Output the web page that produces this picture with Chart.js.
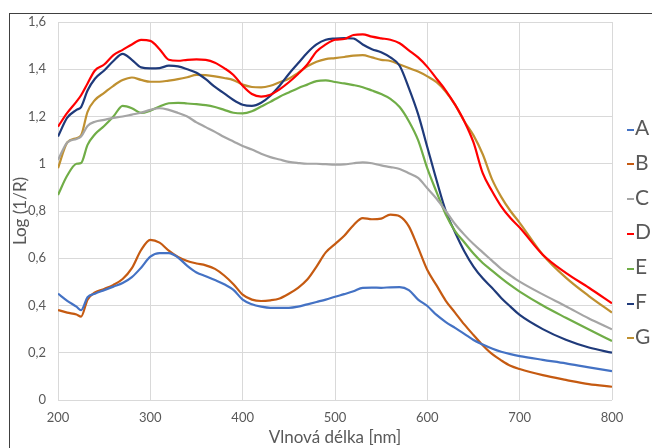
<!DOCTYPE html>
<html lang="cs">
<head>
<meta charset="utf-8">
<title>Log (1/R)</title>
<script src="https://cdn.jsdelivr.net/npm/chart.js@4.4.1/dist/chart.umd.min.js"></script>
<style>
    html, body { margin: 0; padding: 0; background: #ffffff; }
    #wrap { position: relative; width: 652px; height: 448px; overflow: hidden; }
    #frame {
        position: absolute; left: 9px; top: 13px; width: 700px; height: 500px;
        border: 1.5px solid #404040; box-sizing: border-box;
    }
    #chart { position: absolute; left: 0; top: 0; }
    #legend {
        position: absolute; left: 627px; top: 110px;
        font-family: Lato, "Open Sans", sans-serif; font-size: 21px; color: #595959;
    }
    #legend .item { height: 34.8px; line-height: 34.8px; white-space: nowrap; }
    #legend .dash { display: inline-block; width: 7px; height: 2px; margin-right: 1px; vertical-align: middle; }
</style>
</head>
<body>
<div id="wrap">
    <div id="frame"></div>
    <canvas id="chart" width="652" height="448"></canvas>
    <div id="legend"></div>
</div>
<script>
// vlnove delky (nm), spolecne pro vsechny krivky
const WL = [200, 210, 220, 225, 232, 240, 250, 260, 270, 280, 290, 300, 310, 320, 330, 340, 350, 360, 370, 380,
    390, 400, 410, 420, 430, 440, 450, 460, 470, 480, 490, 500, 510, 520, 530, 540, 550, 560, 570, 580,
    590, 600, 610, 620, 630, 640, 650, 660, 670, 680, 690, 700, 725, 750, 775, 800];

const A = [0.45, 0.42, 0.395, 0.38, 0.435, 0.45, 0.465, 0.48, 0.495, 0.52, 0.56, 0.607, 0.622, 0.622, 0.603, 0.568, 0.54, 0.524, 0.508, 0.49,
    0.466, 0.425, 0.405, 0.395, 0.39, 0.39, 0.39, 0.395, 0.405, 0.415, 0.425, 0.437, 0.448, 0.46, 0.475, 0.476, 0.475, 0.477, 0.478, 0.465,
    0.425, 0.398, 0.36, 0.33, 0.305, 0.28, 0.254, 0.235, 0.218, 0.204, 0.194, 0.186, 0.17, 0.155, 0.138, 0.122];

const B = [0.381, 0.37, 0.362, 0.353, 0.425, 0.455, 0.47, 0.487, 0.512, 0.558, 0.635, 0.678, 0.666, 0.632, 0.605, 0.588, 0.578, 0.57, 0.555, 0.527,
    0.49, 0.446, 0.425, 0.419, 0.422, 0.43, 0.45, 0.475, 0.51, 0.565, 0.625, 0.66, 0.695, 0.74, 0.77, 0.765, 0.768, 0.785, 0.778, 0.735,
    0.645, 0.55, 0.485, 0.42, 0.37, 0.32, 0.275, 0.232, 0.195, 0.168, 0.145, 0.131, 0.105, 0.085, 0.067, 0.056];

const C = [1.016, 1.09, 1.105, 1.115, 1.16, 1.178, 1.186, 1.194, 1.2, 1.208, 1.216, 1.228, 1.235, 1.228, 1.215, 1.2, 1.175, 1.155, 1.135, 1.113,
    1.094, 1.075, 1.06, 1.042, 1.028, 1.018, 1.008, 1.003, 1.0, 1.0, 0.998, 0.996, 0.997, 1.002, 1.006, 1.002, 0.993, 0.986, 0.978, 0.96,
    0.94, 0.896, 0.852, 0.8, 0.745, 0.7, 0.66, 0.625, 0.59, 0.555, 0.527, 0.501, 0.447, 0.397, 0.345, 0.299];

const D = [1.157, 1.215, 1.263, 1.29, 1.34, 1.395, 1.42, 1.46, 1.482, 1.505, 1.524, 1.52, 1.485, 1.44, 1.436, 1.44, 1.442, 1.44, 1.428, 1.405,
    1.376, 1.33, 1.295, 1.284, 1.292, 1.315, 1.345, 1.38, 1.42, 1.475, 1.505, 1.525, 1.528, 1.545, 1.548, 1.538, 1.531, 1.525, 1.51, 1.48,
    1.45, 1.41, 1.36, 1.31, 1.25, 1.18, 1.09, 0.96, 0.885, 0.82, 0.77, 0.73, 0.615, 0.538, 0.475, 0.409];

const E = [0.868, 0.95, 1.0, 1.003, 1.08, 1.125, 1.16, 1.2, 1.245, 1.235, 1.215, 1.225, 1.242, 1.256, 1.258, 1.255, 1.252, 1.248, 1.24, 1.228,
    1.216, 1.213, 1.222, 1.242, 1.262, 1.284, 1.302, 1.32, 1.335, 1.35, 1.353, 1.346, 1.34, 1.333, 1.324, 1.31, 1.295, 1.275, 1.24, 1.18,
    1.1, 0.98, 0.88, 0.785, 0.715, 0.668, 0.62, 0.58, 0.548, 0.516, 0.486, 0.459, 0.4, 0.348, 0.298, 0.25];

const F = [1.115, 1.195, 1.228, 1.24, 1.31, 1.36, 1.395, 1.435, 1.465, 1.44, 1.408, 1.404, 1.405, 1.415, 1.412, 1.4, 1.385, 1.358, 1.325, 1.298,
    1.27, 1.25, 1.245, 1.258, 1.288, 1.33, 1.38, 1.425, 1.47, 1.505, 1.525, 1.53, 1.532, 1.53, 1.505, 1.485, 1.472, 1.45, 1.415, 1.32,
    1.21, 1.07, 0.93, 0.8, 0.71, 0.63, 0.565, 0.515, 0.475, 0.432, 0.395, 0.36, 0.3, 0.255, 0.222, 0.2];

const G = [0.981, 1.09, 1.108, 1.12, 1.22, 1.27, 1.3, 1.33, 1.354, 1.365, 1.355, 1.347, 1.347, 1.352, 1.358, 1.366, 1.376, 1.375, 1.37, 1.363,
    1.354, 1.335, 1.325, 1.323, 1.33, 1.345, 1.36, 1.385, 1.412, 1.432, 1.443, 1.447, 1.452, 1.458, 1.46, 1.45, 1.44, 1.435, 1.42, 1.405,
    1.39, 1.37, 1.345, 1.305, 1.25, 1.18, 1.12, 1.04, 0.935, 0.86, 0.8, 0.75, 0.615, 0.518, 0.44, 0.37];

const SERIES_NAMES = ['A', 'B', 'C', 'D', 'E', 'F', 'G'];
const SERIES_VALUES = [A, B, C, D, E, F, G];
const SERIES_COLORS = ['#4472C4', '#C55A11', '#A5A5A5', '#FF0000', '#70AD47', '#1F3A7A', '#BF9030'];

const X_TITLE = 'Vlnová délka [nm]';
const Y_TITLE = 'Log (1/R)';

(function () {
    const TEXT = '#595959';
    const GRID = '#d9d9d9';
    const FONT = 'Lato, "Open Sans", sans-serif';

    function points(values) {
        return WL.map(function (w, i) {
            return { x: w, y: values[i] };
        });
    }

    function formatTick(v) {
        // ceska desetinna carka
        return String(Math.round(v * 10) / 10).replace('.', ',');
    }

    function renderLegend() {
        const root = document.getElementById('legend');
        const parts = [];
        SERIES_NAMES.forEach(function (name, i) {
            parts.push('<div class="item"><span class="dash" style="background:' + SERIES_COLORS[i] + ';"></span>' + name + '</div>');
        });
        root.innerHTML = parts.join('');
    }

    Chart.defaults.font.family = FONT;

    new Chart(document.getElementById('chart').getContext('2d'), {
        type: 'line',
        data: {
            datasets: SERIES_NAMES.map(function (name, i) {
                return {
                    label: name,
                    data: points(SERIES_VALUES[i]),
                    borderColor: SERIES_COLORS[i],
                    backgroundColor: 'transparent',
                    borderWidth: 2.2,
                    pointRadius: 0,
                    fill: false,
                    cubicInterpolationMode: 'monotone',
                };
            }),
        },
        options: {
            responsive: false,
            animation: false,
            layout: { padding: { top: 22, right: 40, bottom: 0, left: 0 } },
            plugins: {
                legend: { display: false },
                tooltip: { enabled: false },
            },
            scales: {
                x: {
                    type: 'linear',
                    min: 200,
                    max: 800,
                    ticks: { stepSize: 100, color: TEXT, font: { size: 13 }, padding: 10 },
                    grid: { color: GRID, drawTicks: false },
                    border: { display: false },
                    title: { display: true, text: X_TITLE, color: TEXT, font: { size: 17 }, padding: 0 },
                    afterFit: function (scale) { scale.height = 48; },
                },
                y: {
                    min: 0,
                    max: 1.6,
                    ticks: { stepSize: 0.2, color: TEXT, font: { size: 13 }, padding: 12, callback: formatTick },
                    grid: { color: GRID, drawTicks: false },
                    border: { display: false },
                    title: { display: true, text: Y_TITLE, color: TEXT, font: { size: 17 }, padding: { top: 10, bottom: 0 } },
                    afterFit: function (scale) { scale.width = 58; },
                },
            },
        },
    });

    renderLegend();
})();
</script>
</body>
</html>
